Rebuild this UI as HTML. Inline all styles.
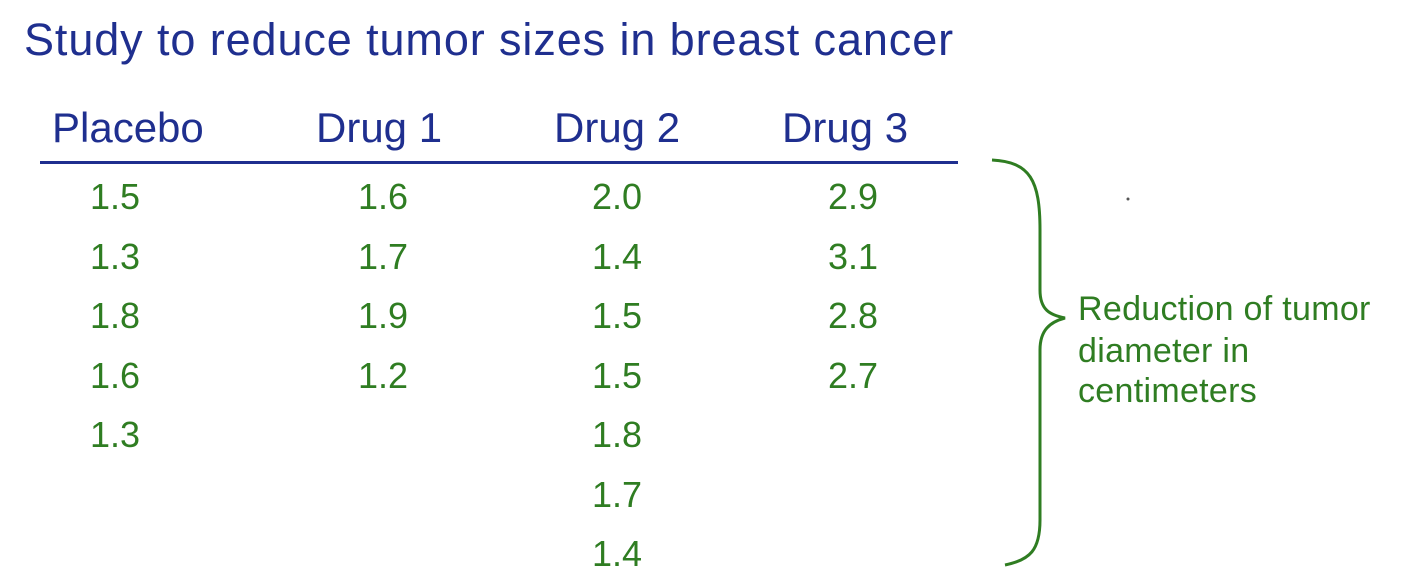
<!DOCTYPE html>
<html><head><meta charset="utf-8">
<style>
html,body{margin:0;padding:0;background:#fff;}
body{width:1402px;height:572px;position:relative;overflow:hidden;font-family:"Liberation Sans",sans-serif;}
.t{position:absolute;white-space:nowrap;}
#title{left:24px;top:14px;font-size:45px;color:#1f2f8f;letter-spacing:0.9px;}
.hdr{top:104px;font-size:42px;color:#1f2f8f;}
.val{font-size:36px;color:#2f7d22;}
.ann{left:1078px;font-size:34px;color:#2f7d22;line-height:1;letter-spacing:0.3px;}
</style></head>
<body>
<div id="title" class="t">Study to reduce tumor sizes in breast cancer</div>
<div class="t hdr" style="left:52px">Placebo</div>
<div class="t hdr" style="left:316px">Drug 1</div>
<div class="t hdr" style="left:554px">Drug 2</div>
<div class="t hdr" style="left:782px">Drug 3</div>
<div style="position:absolute;left:40px;top:161px;width:918px;height:3px;background:#1f2f8f"></div>
<svg style="position:absolute;left:0;top:0" width="1402" height="572">
<path d="M992,160 C1030,162 1040,180 1040,230 L1040,290 C1040,310 1050,315 1065,318 C1050,322 1040,330 1040,350 L1040,520 C1040,550 1030,560 1005,565" fill="none" stroke="#2f7d22" stroke-width="3"/>
<circle cx="1128" cy="199" r="1.5" fill="#555"/>
</svg>
<div class="t ann" style="top:292px">Reduction of tumor</div>
<div class="t ann" style="top:334px">diameter in</div>
<div class="t ann" style="top:374px">centimeters</div>
<div id="vals"></div>
<script>
const placebo = ["1.5","1.3","1.8","1.6","1.3"];
const drug1 = ["1.6","1.7","1.9","1.2"];
const drug2 = ["2.0","1.4","1.5","1.5","1.8","1.7","1.4"];
const drug3 = ["2.9","3.1","2.8","2.7"];
const groups = [placebo, drug1, drug2, drug3];
const groupNames = ["placebo","drug-1","drug-2","drug-3"];
const colX = [i => 90, i => 358, i => 592, i => 828];
const rowY = r => 176 + r * 59.5;
const host = document.getElementById('vals');
groups.forEach((g, gi) => {
  g.forEach((v, r) => {
    const el = document.createElement('div');
    el.className = 't val';
    el.style.left = colX[gi](r) + 'px';
    el.style.top = rowY(r) + 'px';
    el.textContent = v;
    
    
    host.appendChild(el);
  });
});
</script>
</body></html>
